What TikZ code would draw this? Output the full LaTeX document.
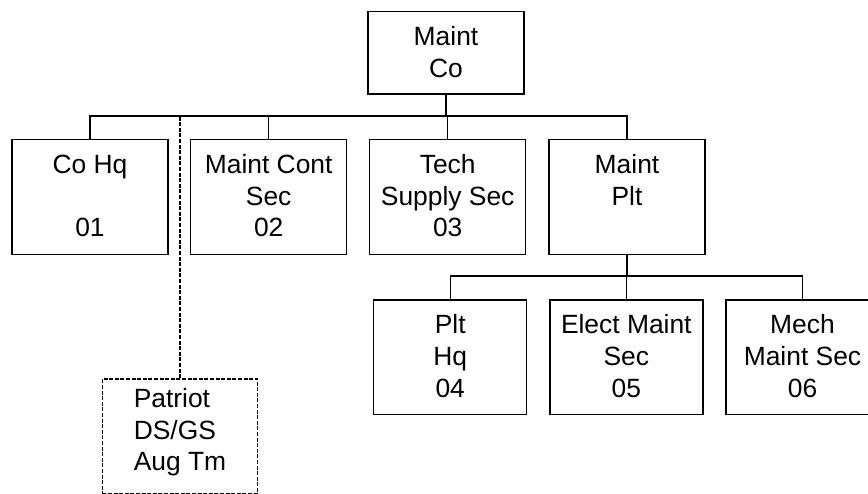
\documentclass[tikz,border=0pt]{standalone}
\usepackage{fontspec}
\setmainfont{Liberation Sans}
\newcommand\tl[1]{\begin{tabular}[t]{@{}c@{}}#1\end{tabular}}
\newcommand\tll[1]{\begin{tabular}[t]{@{}l@{}}#1\end{tabular}}
\begin{document}
\begin{tikzpicture}[x=1pt,y=-1pt,
  box/.style={draw, line width=1.4pt, anchor=north, inner sep=0pt, minimum width=156pt,
    text height=33.7pt, font=\fontsize{26.4}{31.7}\selectfont},
  tall/.style={text depth=81.3pt},
  low/.style={minimum width=153pt, text height=33.7pt, text depth=81pt},
  conn/.style={line width=1.4pt},
  dashconn/.style={line width=1.4pt, dash pattern=on 4pt off 1.6pt}]
\useasboundingbox (0,0) rectangle (868,494);
\clip (0,0) rectangle (868,494);
\coordinate (bus) at (0,116);
\coordinate (bus2) at (0,276);
\node[box, text depth=48.6pt] (maintco) at (446,11) {\tl{Maint\\Co}};
\node[box, tall] (cohq) at (90,139) {\tl{Co Hq\\ \\01}};
\node[box, tall] (mcs) at (268.7,139) {\tl{Maint Cont\\Sec\\02}};
\node[box, tall] (tss) at (447.7,139) {\tl{Tech\\Supply Sec\\03}};
\node[box, tall] (mplt) at (627,139) {\tl{Maint\\Plt}};
\node[box, low] (plthq) at (450.2,299.3) {\tl{Plt\\Hq\\04}};
\node[box, low] (elect) at (626.3,299.3) {\tl{Elect Maint\\Sec\\05}};
\node[box, low] (mech) at (802.5,299.3) {\tl{Mech\\Maint Sec\\06}};
\node[box, dashconn, minimum width=155.4pt, text height=28.4pt, text depth=86pt] (patriot) at (180,378.3) {\tll{Patriot\\DS/GS\\Aug Tm}};
\draw[conn] (maintco.south) -- (maintco.south |- bus);
\draw[conn] (cohq.north) -- (cohq.north |- bus) -| (mplt.north);
\draw[conn] (mcs.north) -- (mcs.north |- bus);
\draw[conn] (tss.north) -- (tss.north |- bus);
\draw[dashconn] (patriot.north) -- (patriot.north |- bus);
\draw[conn] (mplt.south) -- (mplt.south |- bus2);
\draw[conn] (plthq.north) -- (plthq.north |- bus2) -| (mech.north);
\draw[conn] (elect.north) -- (elect.north |- bus2);
\end{tikzpicture}
\end{document}
